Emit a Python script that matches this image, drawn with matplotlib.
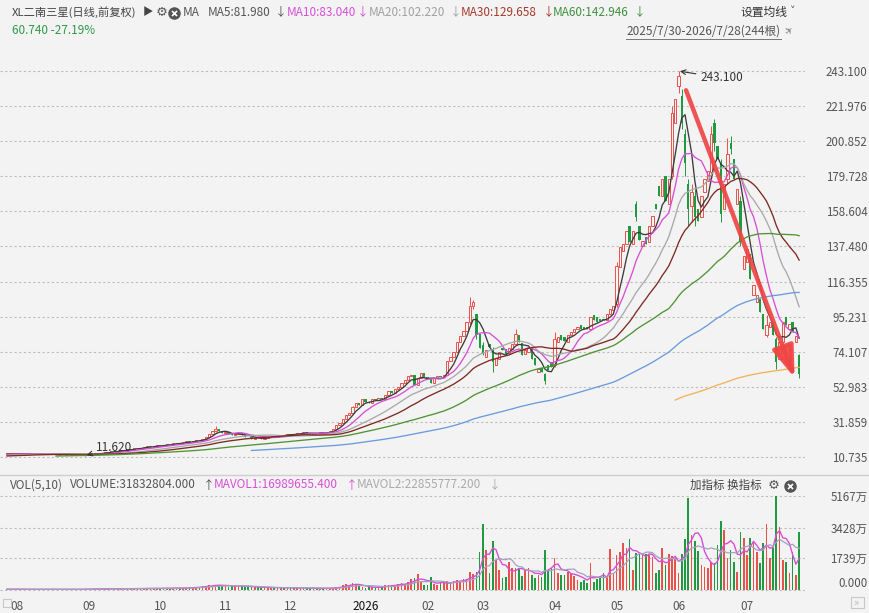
import numpy as np
import pandas as pd
import matplotlib
matplotlib.use('Agg')
import matplotlib.pyplot as plt

plt.rcParams['font.family'] = ['Noto Sans CJK SC', 'DejaVu Sans']

# ---- data ----
# closes before the visible window (only used for the long moving averages)
pre_close = [9.6, 9.8, 9.7, 9.9, 10.1, 9.9, 10.0, 10.2, 10.1, 10.3,
             10.2, 10.4, 10.3, 10.1, 10.3, 10.5, 10.4, 10.6, 10.5, 10.3,
             10.5, 10.7, 10.6, 10.8, 10.7, 10.9, 11.0, 10.8, 11.1, 11.3,
             11.2, 11.5, 11.4, 11.7, 11.6, 11.9, 12.1, 11.8, 12.2, 12.4,
             12.3, 12.6, 12.4, 12.5]

close = [12.6, 12.8, 12.7, 12.9, 12.6, 12.5, 12.7, 12.6, 12.4, 12.5,
         12.6, 12.4, 12.3, 12.5, 12.4, 12.2, 12.3, 12.1, 12.2, 12.0,
         12.1, 11.9, 12.0, 11.8, 11.9, 12.3, 12.6, 12.9, 13.2, 13.0,
         13.5, 13.8, 14.2, 14.0, 14.5, 14.8, 15.2, 15.0, 15.6, 16.0,
         16.4, 16.1, 16.8, 17.2, 16.9, 17.5, 17.8, 17.4, 18.1, 18.5,
         18.3, 18.9, 19.4, 19.0, 19.6, 20.1, 19.8, 20.5, 21.2, 20.8,
         21.5, 22.8, 24.6, 26.5, 27.8, 26.2, 25.0, 25.6, 24.3, 23.8,
         24.6, 25.2, 23.9, 23.0, 22.5, 21.8, 22.4, 22.0, 21.6, 22.3,
         22.8, 23.4, 23.0, 23.8, 24.2, 23.6, 24.5, 24.1, 24.8, 25.3,
         24.9, 25.6, 25.1, 24.6, 25.2, 24.8, 25.5, 24.9, 25.6, 26.4,
         27.5, 29.8, 31.2, 33.5, 36.0, 37.2, 40.8, 43.5, 42.0, 45.6,
         44.0, 43.2, 45.5, 44.8, 46.3, 45.8, 47.9, 50.2, 49.1, 51.5,
         53.0, 55.5, 57.2, 59.6, 60.3, 53.8, 58.0, 61.2, 59.0, 57.5,
         55.2, 58.3, 59.5, 58.8, 60.2, 68.5, 71.0, 74.2, 80.1, 83.5,
         86.3, 91.8, 101.5, 104.0, 84, 76.5, 73.5, 75, 77, 68,
         70.5, 73.8, 75, 73, 76.5, 78.5, 84.5, 80, 72, 75,
         76.5, 70, 66, 64, 62, 56.5, 63, 65, 82, 83,
         81, 80.5, 84, 86, 88, 89, 88, 87.5, 88, 95,
         93.5, 92, 92.5, 93, 97, 100, 101.5, 126, 137, 139,
         147, 140, 146.5, 155, 141.5, 141, 139, 150, 156, 160,
         168, 178, 165, 178, 218, 226, 240, 212, 188, 160,
         170, 155, 153, 168, 178, 183, 205, 200, 190, 157,
         175, 193, 196, 178, 172, 140, 132, 136, 118, 114,
         108, 98, 88, 90, 92, 84, 68, 80, 92, 90,
         91, 86, 83.42, 60.74]

open_ = [12.5, 12.6, 12.8, 12.7, 12.9, 12.6, 12.5, 12.7, 12.6, 12.4,
         12.5, 12.6, 12.4, 12.3, 12.5, 12.4, 12.2, 12.3, 12.1, 12.2,
         12.0, 12.1, 11.9, 12.0, 11.8, 11.9, 12.3, 12.6, 12.9, 13.2,
         13.0, 13.5, 13.8, 14.2, 14.0, 14.5, 14.8, 15.2, 15.0, 15.6,
         16.0, 16.4, 16.1, 16.8, 17.2, 16.9, 17.5, 17.8, 17.4, 18.1,
         18.5, 18.3, 18.9, 19.4, 19.0, 19.6, 20.1, 19.8, 20.5, 21.2,
         20.8, 21.5, 22.8, 24.6, 26.5, 27.8, 26.2, 25.0, 25.6, 24.3,
         23.8, 24.6, 25.2, 23.9, 23.0, 22.5, 21.8, 22.4, 22.0, 21.6,
         22.3, 22.8, 23.4, 23.0, 23.8, 24.2, 23.6, 24.5, 24.1, 24.8,
         25.3, 24.9, 25.6, 25.1, 24.6, 25.2, 24.8, 25.5, 24.9, 25.6,
         26.4, 27.5, 29.8, 31.2, 33.5, 36.0, 37.2, 40.8, 43.5, 42.0,
         45.6, 44.0, 43.2, 45.5, 44.8, 46.3, 45.8, 47.9, 50.2, 49.1,
         51.5, 53.0, 55.5, 57.2, 59.6, 60.3, 53.8, 58.0, 61.2, 59.0,
         57.5, 55.2, 58.3, 59.5, 58.8, 60.2, 68.5, 71.0, 74.2, 80.1,
         83.5, 86.3, 91.8, 101.5, 97, 85, 78, 71, 79, 76,
         66, 70, 76.5, 75.5, 73.5, 76, 79, 84, 79.5, 72.5,
         74, 76, 70.5, 62, 64.5, 61, 66, 68, 66, 80,
         84, 83, 80, 84, 86, 87.5, 90, 89, 89, 88,
         96, 95, 94, 94, 93, 97, 99, 103, 125, 135,
         139, 150, 139, 163, 150, 138, 143, 140, 150, 163,
         174, 168, 180, 163, 180, 212, 234, 228, 205, 175,
         162, 168, 160, 155, 170, 177, 182, 212, 198, 188,
         160, 178, 200, 190, 163, 165, 124, 128, 133, 108,
         104, 106, 97, 84, 89, 92, 82, 70, 80, 95,
         88, 92, 80, 72]

# bars with visible wicks: index -> (high, low)
wicks = {24: (12.1, 11.62), 64: (29.5, 26.0), 106: (41.5, 36.8),
         142: (107, 90), 143: (105.5, 100), 144: (97, 82), 146: (80, 72),
         149: (77, 62), 156: (87.5, 78.5), 165: (61.5, 54.5), 168: (86, 65),
         187: (128, 101), 193: (165, 153), 204: (222, 178), 206: (243.1, 230),
         207: (232, 208), 208: (208, 180), 209: (178, 150), 210: (175, 152),
         211: (172, 150), 216: (210, 180), 217: (214, 195), 219: (190, 152),
         221: (203, 175), 222: (204, 193), 225: (168, 138), 233: (96, 83),
         236: (83, 64), 243: (73, 58)}

# volume in 万
volume = [45, 38, 52, 40, 35, 48, 42, 30, 36, 44,
          40, 33, 37, 45, 39, 31, 35, 42, 38, 34,
          36, 41, 33, 47, 55, 62, 48, 58, 66, 52,
          70, 64, 78, 60, 72, 68, 85, 63, 80, 76,
          90, 70, 95, 88, 74, 102, 86, 80, 110, 96,
          85, 105, 118, 92, 126, 110, 140, 135, 180, 160,
          210, 240, 280, 230, 300, 260, 220, 250, 190, 210,
          230, 260, 200, 180, 170, 150, 165, 140, 130, 155,
          120, 135, 110, 125, 140, 115, 105, 130, 120, 110,
          100, 115, 95, 105, 90, 85, 100, 80, 95, 110,
          130, 150, 190, 260, 330, 280, 370, 300, 240, 160,
          130, 150, 140, 160, 180, 150, 270, 300, 250, 280,
          330, 380, 350, 420, 600, 640, 880, 450, 300, 280,
          700, 320, 280, 420, 360, 480, 380, 500, 560, 520,
          600, 580, 970, 880, 1000, 2100, 3630, 2200, 920, 2700,
          1650, 1100, 640, 730, 1560, 1190, 1190, 1190, 770, 1100,
          1230, 820, 640, 820, 730, 2200, 1100, 1190, 1740, 920,
          820, 820, 1000, 920, 770, 550, 460, 550, 400, 1470,
          460, 590, 730, 920, 770, 2240, 920, 1920, 2100, 2600,
          2290, 2790, 1100, 2010, 2000, 2000, 2000, 1920, 1830, 920,
          1100, 2290, 1370, 2000, 1870, 1740, 920, 2000, 2790, 5040,
          3020, 2700, 2160, 1400, 1280, 1190, 1560, 1470, 2470, 3790,
          3300, 1780, 2200, 1560, 1000, 3170, 2840, 1920, 2880, 2570,
          2100, 1470, 2570, 3630, 1740, 2290, 5180, 3480, 1650, 1560,
          960, 2100, 830, 3183]

price_ticks = [243.100, 221.976, 200.852, 179.728, 158.604, 137.480,
               116.355, 95.231, 74.107, 52.983, 31.859, 10.735]
vol_ticks = [5167, 3428, 1739, 0]
vol_labels = ['5167万', '3428万', '1739万', '0.000']
month_pos = [3, 25, 47, 67, 87, 110, 129, 146, 168, 187, 206, 227]
month_lab = ['08', '09', '10', '11', '12', '2026', '02', '03', '04', '05', '06', '07']

ma_periods = [5, 10, 20, 30, 60, 120, 250]
ma_colors = ['#3c3c3c', '#d64fd6', '#a9a9a9', '#7d2a20', '#4f9434', '#6b9bdc', '#f0b35a']

BG = '#f3f3f3'
RED = '#e8524a'
GREEN = '#1f9a40'

# ---- figure ----
W, H = 870, 613
fig = plt.figure(figsize=(8.7, 6.13), dpi=100, facecolor=BG)

def pos(x0, y0, x1, y1):
    return [x0 / W, 1 - y1 / H, (x1 - x0) / W, (y1 - y0) / H]

ax = fig.add_axes(pos(0, 60, 805, 470), facecolor=BG)
axv = fig.add_axes(pos(0, 488, 805, 592), facecolor=BG, sharex=ax)

c = np.array(close)
o = np.array(open_)
n = len(c)
x = np.arange(n)
up = c >= o
hi = np.maximum(o, c)
lo = np.minimum(o, c)
for i, (h, l) in wicks.items():
    hi[i] = h
    lo[i] = l

# wicks
ax.vlines(x[up], lo[up], hi[up], color=RED, lw=0.7, zorder=2)
ax.vlines(x[~up], lo[~up], hi[~up], color=GREEN, lw=0.7, zorder=2)
# bodies: hollow red up, solid green down
bot = np.minimum(o, c)
bh = np.maximum(np.abs(c - o), 0.35)
ax.bar(x[up], bh[up], bottom=bot[up], width=0.72, facecolor=BG,
       edgecolor=RED, lw=0.7, zorder=2.5)
ax.bar(x[~up], bh[~up], bottom=bot[~up], width=0.72, color=GREEN,
       lw=0, zorder=2.5)

# moving averages
full = pd.Series(pre_close + close)
for p, col in zip(ma_periods, ma_colors):
    m = full.rolling(p).mean().to_numpy()[len(pre_close):]
    ax.plot(x, m, color=col, lw=0.95, zorder=3)

ax.set_xlim(-2.15, 244.8)
ax.set_ylim(2.91, 249.72)
ax.set_yticks(price_ticks)
ax.set_yticklabels(['%.3f' % v for v in price_ticks])
ax.yaxis.tick_right()
ax.tick_params(axis='y', length=0, pad=45, labelsize=8.3, labelcolor='#555')
for lab in ax.get_yticklabels():
    lab.set_ha('right')
ax.tick_params(axis='x', bottom=False, labelbottom=False)
ax.grid(axis='y', ls=(0, (2, 2.2)), color='#bdbdbd', lw=0.8)
for s in ax.spines.values():
    s.set_visible(False)

# peak / low labels and drawn arrow
ax.annotate('243.100', xy=(206, 243.1), xytext=(212.6, 238.9),
            fontsize=8.5, color='#333', va='center', ha='left',
            arrowprops=dict(arrowstyle='->', color='#333', lw=0.8,
                            shrinkA=1, shrinkB=1), zorder=6)
ax.annotate('11.620', xy=(24, 11.62), xytext=(27.4, 16.5),
            fontsize=8.5, color='#333', va='center', ha='left',
            arrowprops=dict(arrowstyle='->', color='#333', lw=0.8,
                            shrinkA=1, shrinkB=1), zorder=6)
ax.annotate('', xy=(241.6, 58.5), xytext=(208.3, 231.5),
            arrowprops=dict(arrowstyle='-|>,head_width=0.33,head_length=0.95',
                            color='#f04545', lw=3.2, mutation_scale=20,
                            shrinkA=0, shrinkB=0, alpha=0.92), zorder=7)

# volume
v = np.array(volume, dtype=float)
axv.bar(x[up], v[up], width=0.5, color=RED, lw=0, zorder=2)
axv.bar(x[~up], v[~up], width=0.5, color=GREEN, lw=0, zorder=2)
vs = pd.Series(v)
axv.plot(x, vs.rolling(5, min_periods=1).mean(), color='#d64fd6', lw=1.0, zorder=3)
axv.plot(x, vs.rolling(10, min_periods=1).mean(), color='#a3a3c0', lw=0.9, zorder=3)
axv.set_ylim(-110, 5607)
axv.set_yticks(vol_ticks)
axv.set_yticklabels(vol_labels)
axv.yaxis.tick_right()
axv.tick_params(axis='y', length=0, pad=45, labelsize=8.3, labelcolor='#555')
for lab in axv.get_yticklabels():
    lab.set_ha('right')
axv.get_yticklabels()[-1].set_va('bottom')
axv.grid(axis='y', ls=(0, (2, 2.2)), color='#bdbdbd', lw=0.8)
axv.set_xticks(month_pos)
axv.set_xticklabels(month_lab)
axv.tick_params(axis='x', length=0, pad=6, labelsize=8.5, labelcolor='#555')
axv.get_xticklabels()[5].set_color('#111')
for s in axv.spines.values():
    s.set_visible(False)

# ---- overlay for header text and icons (pixel coordinates) ----
ov = fig.add_axes([0, 0, 1, 1])
ov.set_xlim(0, W)
ov.set_ylim(H, 0)
ov.axis('off')
ov.patch.set_alpha(0)

def t(xp, yp, s, col='#555', size=8.5, **kw):
    ov.text(xp, yp, s, color=col, fontsize=size, va='center', ha='left', **kw)

def closeicon(xp, yp):
    ov.plot([xp], [yp], 'o', ms=8, color='#555')
    ov.plot([xp], [yp], 'x', ms=3.6, mew=1.2, color='white')

y1, y2 = 12, 31
t(12, y1, 'XL二南三星(日线,前复权)', '#444', 8.1)
t(143, y1, '▶', '#444', 7.5)
t(156, y1, '⚙', '#555', 9.5, family='DejaVu Sans')
closeicon(174, y1 + 0.5)
t(183, y1, 'MA', '#555')
t(208, y1, 'MA5:81.980', '#555')
t(275, y1, '↓', '#555')
t(287, y1, 'MA10:83.040', '#d64fd6')
t(357, y1, '↓', '#d64fd6')
t(369, y1, 'MA20:102.220', '#a0a0a0')
t(450, y1, '↓', '#a0a0a0')
t(461, y1, 'MA30:129.658', '#a63a2c')
t(543, y1, '↓', '#a63a2c')
t(553, y1, 'MA60:142.946', '#3f8f3f')
t(634, y1, '↓', '#3f8f3f')
t(741, y1, '设置均线', '#333')
t(790, y1 - 1, '˅', '#555', 8, family='DejaVu Sans')

t(12, y2, '60.740 -27.19%', '#2e9a47')
t(626, y2, '2025/7/30-2026/7/28(244根)', '#555')
ov.plot([626, 781], [38.5, 38.5], color='#777', lw=0.7)
t(783, y2, '✈', '#888', 7.5, family='DejaVu Sans', rotation=45)

# separator between panels
ov.plot([0, W], [474.5, 474.5], color='#cfcfcf', lw=1.0)

y3 = 485
t(10, y3, 'VOL(5,10)', '#555')
t(70, y3, 'VOLUME:31832804.000', '#555')
t(203, y3, '↑', '#555')
t(214, y3, 'MAVOL1:16989655.400', '#d64fd6')
t(346, y3, '↑', '#d64fd6')
t(357, y3, 'MAVOL2:22855777.200', '#aaaaaa')
t(489, y3, '↓', '#aaaaaa')
t(690, y3, '加指标 换指标', '#444', 8.3)
t(768, y3, '⚙', '#555', 9.5, family='DejaVu Sans')
closeicon(790, y3 + 0.5)

# small corner widgets
ov.add_patch(plt.Rectangle((3, 599), 8, 8, fill=False, ec='#c8c8c8', lw=0.8))
ov.add_patch(plt.Rectangle((851, 597), 13, 11, fill=False, ec='#c8c8c8', lw=0.8))
t(853, 603, '»', '#bbbbbb', 8)

fig.savefig('out.png', dpi=100, facecolor=BG)
